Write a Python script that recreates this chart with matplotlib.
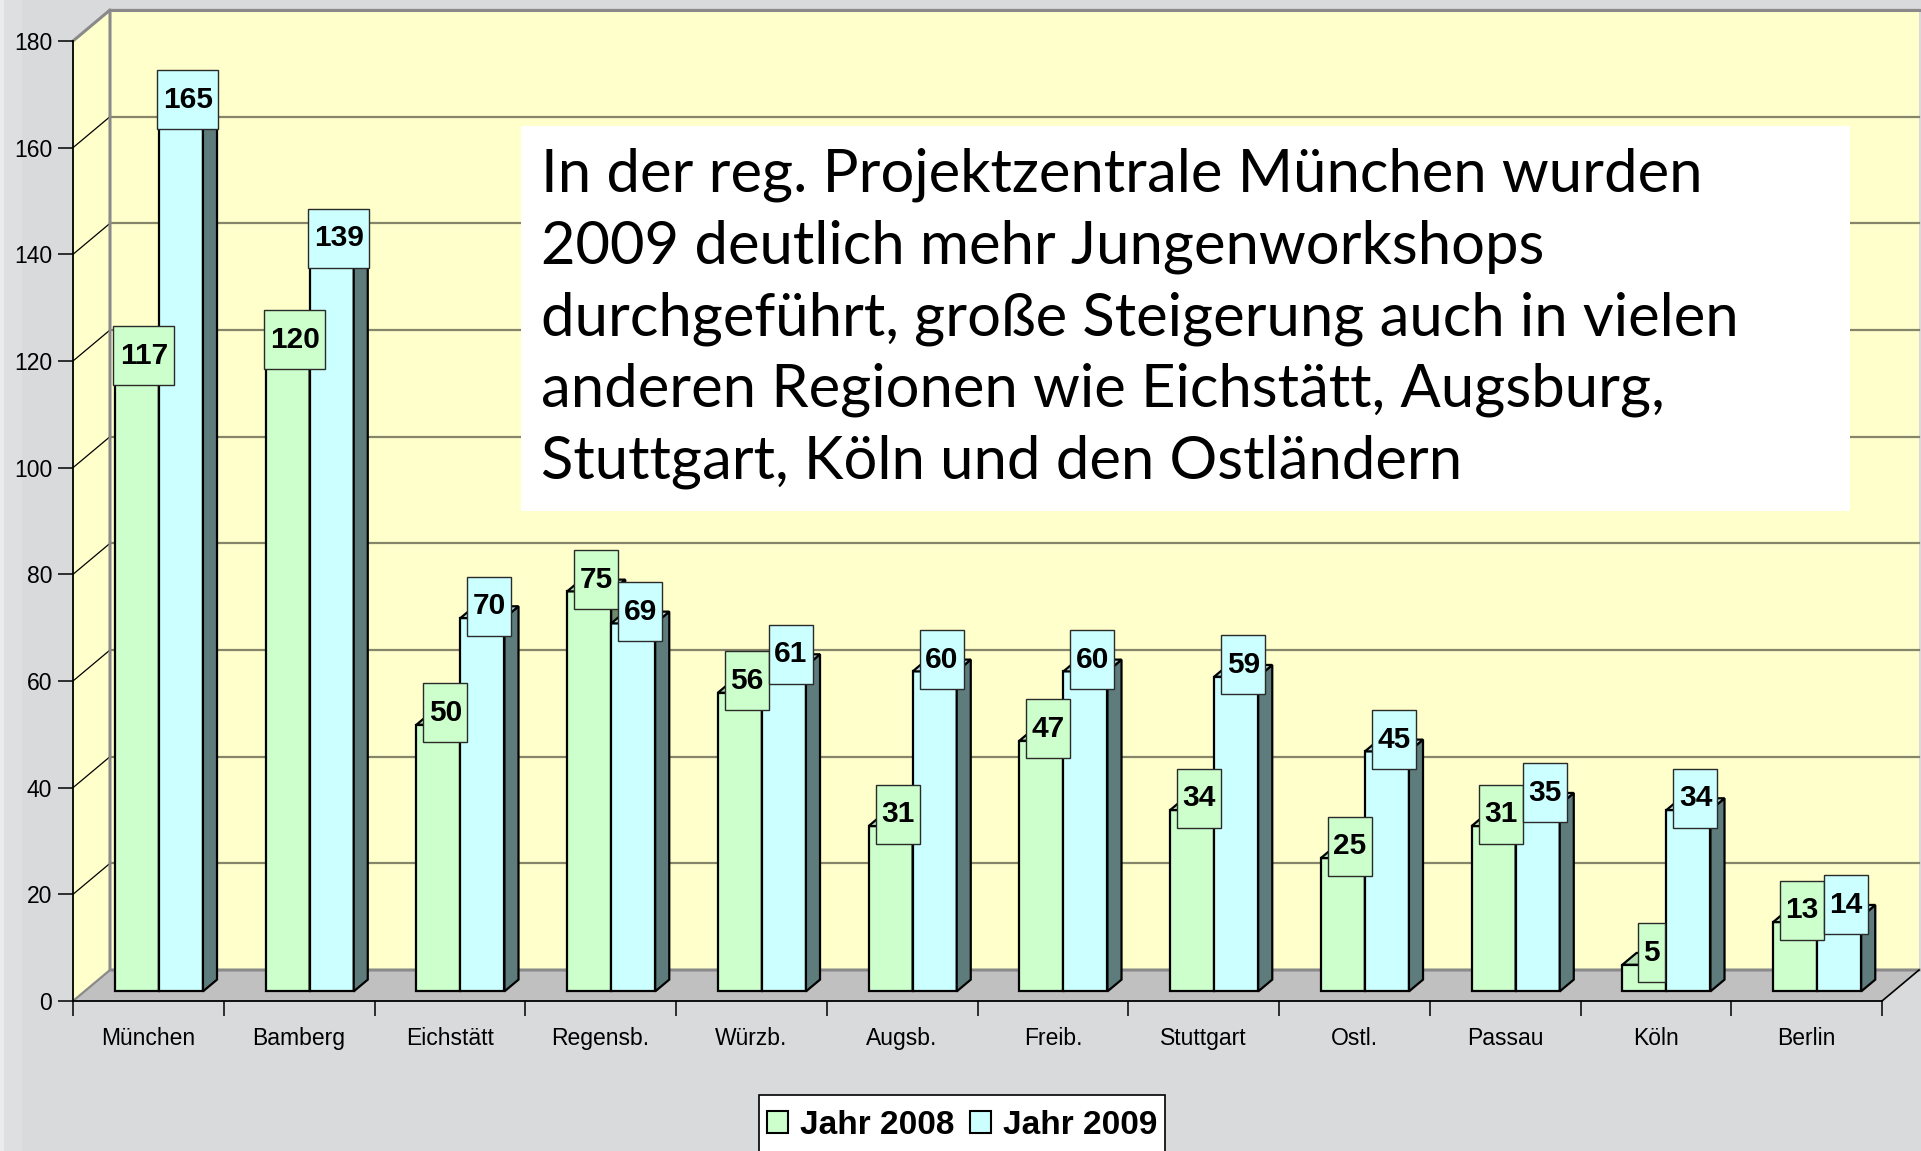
import numpy as np
import matplotlib
matplotlib.use("Agg")
import matplotlib.pyplot as plt
from matplotlib.patches import Polygon, Rectangle

regions = ["München", "Bamberg", "Eichstätt", "Regensb.", "Würzb.", "Augsb.",
           "Freib.", "Stuttgart", "Ostl.", "Passau", "Köln", "Berlin"]
jahr_2008 = [117, 120, 50, 75, 56, 31, 47, 34, 25, 31, 5, 13]
jahr_2009 = [165, 139, 70, 69, 61, 60, 60, 59, 45, 35, 34, 14]
series_names = ["Jahr 2008", "Jahr 2009"]
y_ticks = list(range(0, 181, 20))

note = ("In der reg. Projektzentrale München wurden\n"
        "2009 deutlich mehr Jungenworkshops\n"
        "durchgeführt, große Steigerung auch in vielen\n"
        "anderen Regionen wie Eichstätt, Augsburg,\n"
        "Stuttgart, Köln und den Ostländern")

W, H = 1921, 1151
# front plane in pixels
x0p, x1p = 73, 1882
y0p, y1p = 1001, 41
ymax = 180
ncat = len(regions)
PXX = ncat / (x1p - x0p)     # category units per pixel
PXY = ymax / (y0p - y1p)     # value units per pixel
DX, DY = 37 * PXX, 31 * PXY  # depth of the floor / walls
f_front, f_back = 0.31, 0.69
bar_w = 0.292
bar_off = 0.202

c_green = "#CCFFCC"
c_blue = "#CCFFFF"
c_green_side = "#6F8A6F"
c_blue_side = "#5F7C7C"
c_green_top = "#B4E0B4"
c_blue_top = "#B2E0E0"
wall = "#FFFFCC"
floor = "#C0C0C0"
bg = "#D9DADC"

fig = plt.figure(figsize=(W / 100, H / 100), dpi=100, facecolor=bg)
# lighter strip on the left edge
fig.patches.append(Rectangle((0, 0), 22 / W, 1, transform=fig.transFigure,
                             fc="#DEDFE1", ec="none", zorder=-1))
fig.patches.append(Rectangle((0, 0), 4 / W, 1, transform=fig.transFigure,
                             fc="#EBEBEB", ec="none", zorder=-1))

ax = fig.add_axes([x0p / W, (H - y0p) / H, (x1p - x0p) / W, (y0p - y1p) / H])
ax.set_xlim(0, ncat)
ax.set_ylim(0, ymax)
ax.patch.set_visible(False)

# walls and floor
ax.add_patch(Polygon([(0, 0), (DX, DY), (DX, ymax + DY), (0, ymax)],
                     closed=True, fc=wall, ec="none", clip_on=False, zorder=0))
ax.add_patch(Polygon([(DX, DY), (ncat + DX, DY), (ncat + DX, ymax + DY), (DX, ymax + DY)],
                     closed=True, fc=wall, ec="none", clip_on=False, zorder=0))
ax.add_patch(Polygon([(0, 0), (ncat, 0), (ncat + DX, DY), (DX, DY)],
                     closed=True, fc=floor, ec="none", clip_on=False, zorder=0.5))
for v in y_ticks[1:]:
    ax.plot([DX, ncat + DX], [v + DY, v + DY], color="#85856A", lw=1.6,
            clip_on=False, zorder=0.3)
    ax.plot([0, DX], [v, v + DY], color="black", lw=0.9, clip_on=False, zorder=0.3)
ax.plot([0, DX, DX, ncat + DX], [ymax, ymax + DY, DY, DY], color="#8A8A8A", lw=2.2,
        clip_on=False, zorder=0.6)
ax.plot([DX, ncat + DX], [ymax + DY, ymax + DY], color="#8A8A8A", lw=2.2,
        clip_on=False, zorder=0.6)
ax.plot([0, DX], [0, DY], color="#8A8A8A", lw=1.6, clip_on=False, zorder=0.6)
ax.plot([ncat, ncat + DX], [0, DY], color="black", lw=1.2, clip_on=False, zorder=0.6)

# bars
bdx = (f_back - f_front) * DX
bdy = (f_back - f_front) * DY
sx = f_front * DX
sy = f_front * DY


def draw_bar(x, v, fc, side, top, z):
    xl, yb = x + sx, sy
    kw = dict(closed=True, ec="black", lw=1.6, clip_on=False, zorder=z, joinstyle="miter")
    ax.add_patch(Polygon([(xl, yb), (xl + bar_w, yb), (xl + bar_w, yb + v), (xl, yb + v)],
                         fc=fc, **kw))
    ax.add_patch(Polygon([(xl + bar_w, yb), (xl + bar_w + bdx, yb + bdy),
                          (xl + bar_w + bdx, yb + v + bdy), (xl + bar_w, yb + v)],
                         fc=side, **kw))
    ax.add_patch(Polygon([(xl, yb + v), (xl + bar_w, yb + v),
                          (xl + bar_w + bdx, yb + v + bdy), (xl + bdx, yb + v + bdy)],
                         fc=top, **kw))


z = 2
for i in range(ncat):
    draw_bar(i + bar_off, jahr_2008[i], c_green, c_green_side, c_green_top, z)
    draw_bar(i + bar_off + bar_w, jahr_2009[i], c_blue, c_blue_side, c_blue_top, z + 0.1)
    z += 0.2


def draw_label(x, v, fc, z):
    cx = x + bar_w / 2 + (f_front + f_back) / 2 * DX
    cy = v + (f_front + f_back) / 2 * DY + 6 * PXY
    s = str(v)
    w = (17 * len(s) + 10) * PXX
    h = 59 * PXY
    ax.add_patch(Rectangle((cx - w / 2, cy - h / 2), w, h, fc=fc, ec="#2A2A2A", lw=1.0,
                           clip_on=False, zorder=z))
    ax.text(cx, cy, s, ha="center", va="center", fontsize=21.5, fontweight="bold",
            family="Liberation Sans", zorder=z + 0.01, clip_on=False)


for i in range(ncat):
    draw_label(i + bar_off, jahr_2008[i], c_green, 10)
    draw_label(i + bar_off + bar_w, jahr_2009[i], c_blue, 10.5)

# axes
for s in ["top", "right"]:
    ax.spines[s].set_visible(False)
ax.spines["left"].set_color("black")
ax.spines["bottom"].set_color("black")
ax.spines["left"].set_linewidth(1.3)
ax.spines["bottom"].set_linewidth(1.3)
ax.spines["left"].set_zorder(5)
ax.spines["bottom"].set_zorder(5)
ax.set_yticks(y_ticks)
ax.set_yticklabels([str(v) for v in y_ticks], family="Liberation Sans", fontsize=16.5)
ax.tick_params(axis="y", direction="out", length=11, width=1.1, pad=4)
ax.set_xticks(np.arange(ncat + 1))
ax.set_xticklabels([])
ax.set_xticks(np.arange(ncat) + 0.5, minor=True)
ax.set_xticklabels(regions, minor=True, family="Liberation Sans", fontsize=16.5)
ax.tick_params(axis="x", which="major", direction="out", length=11, width=1.1)
ax.tick_params(axis="x", which="minor", length=0, pad=19)

# note box
fig.patches.append(Rectangle((521 / W, 1 - 511 / H), (1850 - 521) / W, (511 - 126) / H,
                             transform=fig.transFigure, fc="white", ec="none", zorder=20))
fig.text(541 / W, 1 - 148 / H, note, ha="left", va="top", family="Lato", fontsize=43,
         linespacing=1.39, zorder=21)

# legend: frame drawn separately, it runs off the bottom edge
fig.patches.append(Rectangle((759 / W, -0.02), (1165 - 759) / W, 0.02 + (H - 1095) / H,
                             transform=fig.transFigure, fc="white", ec="black", lw=1.2,
                             zorder=20))
handles = [Rectangle((0, 0), 1, 1, fc=c, ec="black", lw=1.5) for c in (c_green, c_blue)]
leg = fig.legend(handles, series_names, loc="center",
                 bbox_to_anchor=(0.5008, (H - 1125) / H),
                 ncol=2, frameon=False,
                 prop={"family": "Liberation Sans", "weight": "bold", "size": 24},
                 handlelength=0.65, handleheight=0.65, handletextpad=0.35,
                 columnspacing=0.45, borderpad=0.0, borderaxespad=0)
leg.set_zorder(21)

fig.savefig("out.png", dpi=100, facecolor=bg)
